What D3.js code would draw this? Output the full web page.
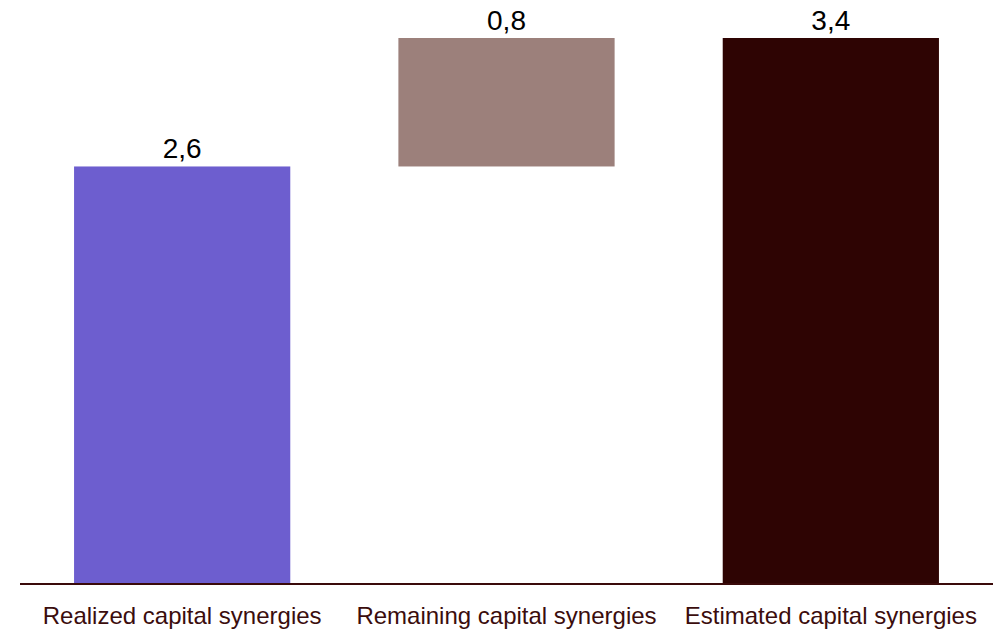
<!DOCTYPE html>
<html>
<head>
<meta charset="utf-8">
<script src="https://cdn.jsdelivr.net/npm/d3@7"></script>
<style>
  html, body { margin: 0; padding: 0; background: #ffffff; }
  svg { display: block; }
  text { font-family: Arial, "Liberation Sans", Helvetica, sans-serif; }
</style>
</head>
<body>
<svg id="chart" width="999" height="630"></svg>
<script>
// Capital synergies bridge
const categories = ["Realized capital synergies", "Remaining capital synergies", "Estimated capital synergies"];
const values = [2.6, 0.8, 3.4];
const kinds = ["step", "step", "total"];
const valueLabels = ["2,6", "0,8", "3,4"];
const colors = ["#6d5ecf", "#9c807b", "#2e0403"];

// running start / end for each bar of the bridge
let running = 0;
const bars = categories.map((c, i) => {
  let y0, y1;
  if (kinds[i] === "total") { y0 = 0; y1 = values[i]; running = values[i]; }
  else { y0 = running; y1 = running + values[i]; running = y1; }
  return { category: c, y0, y1, label: valueLabels[i], color: colors[i] };
});

const svg = d3.select("#chart");
const plotLeft = 20, plotRight = 993, baseline = 584, plotTop = 38;

const x = d3.scaleBand()
  .domain(categories)
  .range([plotLeft, plotRight])
  .paddingInner(1 / 3)
  .paddingOuter(1 / 6);

const y = d3.scaleLinear()
  .domain([0, d3.max(values)])
  .range([baseline, plotTop]);

svg.selectAll("rect.bar")
  .data(bars)
  .join("rect")
  .attr("class", "bar")
  .attr("x", d => x(d.category))
  .attr("width", x.bandwidth())
  .attr("y", d => y(d.y1))
  .attr("height", d => y(d.y0) - y(d.y1))
  .attr("fill", d => d.color);

svg.selectAll("text.value")
  .data(bars)
  .join("text")
  .attr("class", "value")
  .attr("x", d => x(d.category) + x.bandwidth() / 2)
  .attr("y", d => y(d.y1) - 8)
  .attr("text-anchor", "middle")
  .attr("font-size", 28)
  .attr("fill", "#000000")
  .text(d => d.label);

// category axis along the baseline
const axis = svg.append("g")
  .attr("transform", `translate(0,${baseline})`)
  .call(d3.axisBottom(x).tickSize(0).tickPadding(23).tickSizeOuter(0));
axis.select(".domain")
  .attr("d", `M${plotLeft},0H${plotRight}`)
  .attr("stroke", "#3a0a0a")
  .attr("stroke-width", 2);
axis.selectAll(".tick text")
  .attr("font-family", "Arial, 'Liberation Sans', Helvetica, sans-serif")
  .attr("font-size", 24)
  .attr("fill", "#3b0d0d");
</script>
</body>
</html>
